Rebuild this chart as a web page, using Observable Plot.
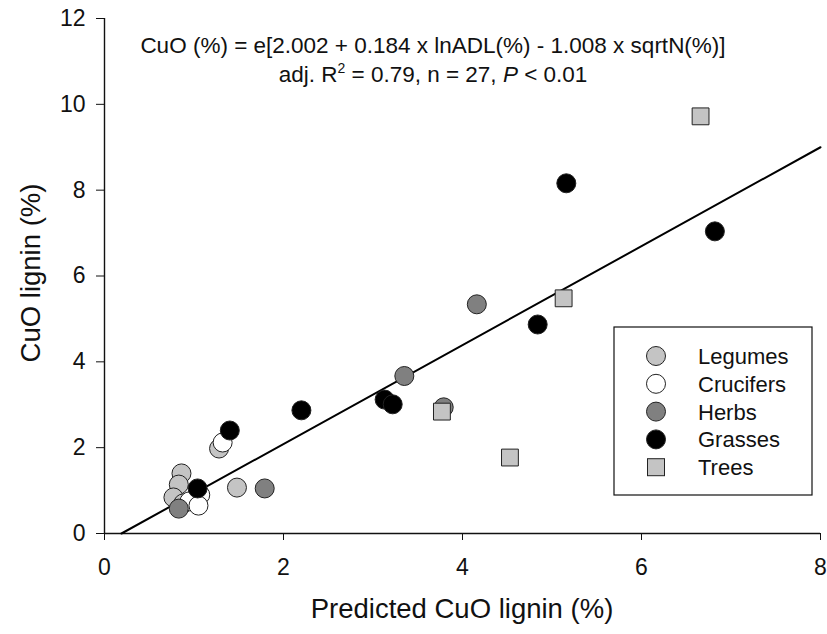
<!DOCTYPE html>
<html><head><meta charset="utf-8">
<script src="https://cdn.jsdelivr.net/npm/d3@7"></script>
<script src="https://cdn.jsdelivr.net/npm/@observablehq/plot@0.6"></script>
<style>body{margin:0;background:#fff}</style>
</head><body><div id="chart"></div>
<script>
const groups = ["Legumes", "Crucifers", "Herbs", "Grasses", "Trees"];
const fills = ["#c4c4c4", "#ffffff", "#808080", "#000000", "#c4c4c4"];
const symbols = ["circle", "circle", "circle", "circle", "square"];

const legumesX = [0.86, 0.83, 0.77, 1.48, 0.88, 1.28];
const legumesY = [1.40, 1.14, 0.84, 1.07, 0.70, 1.98];
const crucifersX = [1.32, 1.07, 0.95, 1.05];
const crucifersY = [2.12, 0.90, 0.75, 0.65];
const herbsX = [0.83, 1.79, 3.35, 4.16, 3.79];
const herbsY = [0.58, 1.05, 3.67, 5.34, 2.94];
const grassesX = [1.40, 1.04, 2.20, 3.13, 3.22, 4.84, 5.16, 6.82];
const grassesY = [2.40, 1.05, 2.87, 3.12, 3.01, 4.87, 8.16, 7.04];
const treesX = [6.66, 5.13, 3.77, 4.53];
const treesY = [9.72, 5.48, 2.84, 1.77];

const fitX = [0.19, 8.0];
const fitY = [0.0, 9.0];

const xTicks = [0, 2, 4, 6, 8];
const yTicks = [0, 2, 4, 6, 8, 10, 12];

const seriesX = [legumesX, crucifersX, herbsX, grassesX, treesX];
const seriesY = [legumesY, crucifersY, herbsY, grassesY, treesY];

const fit = fitX.map((x, i) => ({x, y: fitY[i]}));
const dotMarks = groups.map((g, gi) =>
  Plot.dot(seriesX[gi].map((x, i) => ({x, y: seriesY[gi][i]})), {
    x: "x", y: "y", r: 9.5, symbol: symbols[gi], fill: fills[gi], stroke: "#222", strokeWidth: 1
  })
);

const font = "Liberation Sans, Arial, sans-serif";
const plot = Plot.plot({
  width: 827, height: 634,
  marginLeft: 104, marginRight: 7, marginTop: 18, marginBottom: 101,
  x: {domain: [0, 8]},
  y: {domain: [0, 12]},
  style: {fontFamily: font, fontSize: "23px", color: "#111", background: "#fff"},
  marks: [
    Plot.axisX({ticks: xTicks, tickSize: 7, tickPadding: 18, fontSize: 23, label: null, tickFormat: d => d}),
    Plot.axisY({ticks: yTicks, tickSize: 8, tickPadding: 11, fontSize: 23, label: null, tickFormat: d => d}),
    Plot.ruleX([0], {stroke: "#111", strokeWidth: 1.4}),
    Plot.ruleY([0], {stroke: "#111", strokeWidth: 1.4}),
    Plot.line(fit, {x: "x", y: "y", stroke: "#000", strokeWidth: 2}),
    ...dotMarks
  ]
});
document.getElementById("chart").appendChild(plot);

const svg = d3.select(plot);
svg.selectAll("g[aria-label$='tick label'] text").attr("font-size", 23).style("font-size", "23px");

// axis titles
svg.append("text").attr("x", 462).attr("y", 618).attr("text-anchor", "middle")
  .style("font-family", font).style("font-size", "27.5px").attr("fill", "#111")
  .text("Predicted CuO lignin (%)");
svg.append("text").attr("transform", "translate(40,273) rotate(-90)").attr("text-anchor", "middle")
  .style("font-family", font).style("font-size", "27.5px").attr("fill", "#111")
  .text("CuO lignin (%)");

// equation annotation
const ann = svg.append("g").style("font-family", font).style("font-size", "22.5px").attr("fill", "#111");
ann.append("text").attr("x", 433).attr("y", 53).attr("text-anchor", "middle")
  .text("CuO (%) = e[2.002 + 0.184 x lnADL(%) - 1.008 x sqrtN(%)]");
const t2 = ann.append("text").attr("x", 433).attr("y", 82).attr("text-anchor", "middle");
t2.append("tspan").text("adj. R");
t2.append("tspan").attr("dy", -9).style("font-size", "14px").text("2");
t2.append("tspan").attr("dy", 9).text(" = 0.79, n = 27, ");
t2.append("tspan").style("font-style", "italic").text("P");
t2.append("tspan").text(" < 0.01");

// legend
const lg = svg.append("g").style("font-family", font).style("font-size", "22px");
lg.append("rect").attr("x", 614).attr("y", 327).attr("width", 198).attr("height", 168)
  .attr("fill", "#fff").attr("stroke", "#111").attr("stroke-width", 1.2);
groups.forEach((g, i) => {
  const cy = 356 + i * 27.8;
  if (symbols[i] === "square") {
    lg.append("rect").attr("x", 656 - 8.5).attr("y", cy - 8.5).attr("width", 17).attr("height", 17)
      .attr("fill", fills[i]).attr("stroke", "#222");
  } else {
    lg.append("circle").attr("cx", 656).attr("cy", cy).attr("r", 9.5)
      .attr("fill", fills[i]).attr("stroke", "#222");
  }
  lg.append("text").attr("x", 698).attr("y", cy + 8).attr("text-anchor", "start").attr("fill", "#111").text(g);
});
</script>
</body></html>
